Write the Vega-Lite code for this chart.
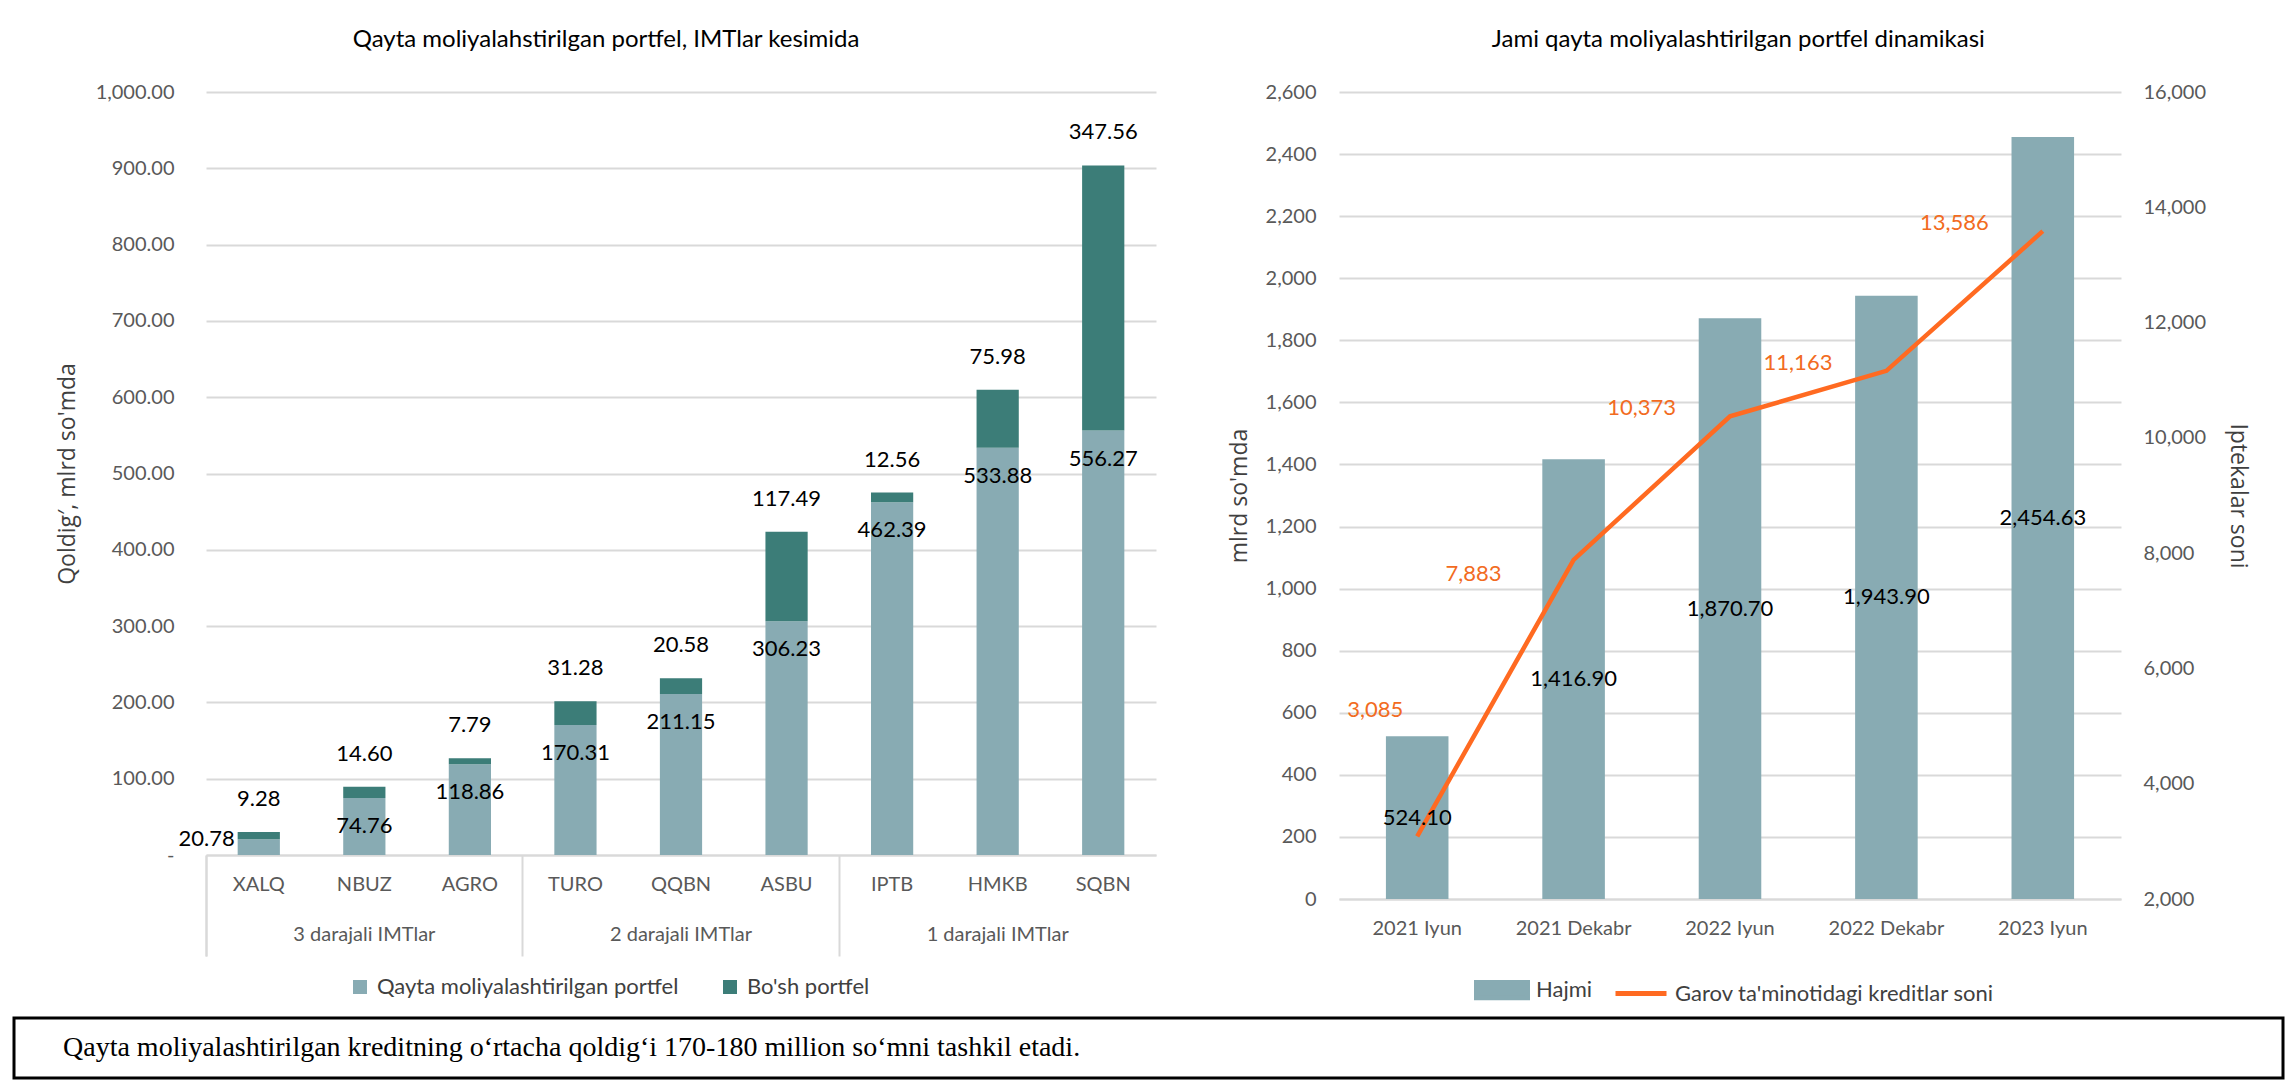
{
  "$schema": "https://vega.github.io/schema/vega-lite/v6.json",
  "background": "white",
  "padding": {"left": 12, "right": 9, "top": 28, "bottom": 0},
  "config": {
    "view": {"stroke": null},
    "font": "Lato",
    "axis": {"labelFont": "Lato", "labelFontSize": 20, "labelColor": "#595959", "titleFont": "Open Sans", "titleFontSize": 23, "titleFontWeight": "normal", "titleColor": "#404040", "ticks": false, "domain": false, "gridColor": "#D9D9D9", "gridWidth": 2},
    "legend": {"labelFont": "Lato", "labelFontSize": 22, "labelColor": "#404040", "labelLimit": 0},
    "title": {"font": "Lato", "fontSize": 24, "fontWeight": "normal", "color": "#000000"}
  },
  "columns": 1,
  "align": "none",
  "spacing": 8,
  "concat": [
    {
      "hconcat": [
        {
          "hconcat": [
            {"width": 1, "height": 763, "data": {"values": []}, "mark": {"type": "rect"}},
            {
              "width": 950,
              "height": 763,
              "title": {"text": "Qayta moliyalahstirilgan portfel, IMTlar kesimida", "anchor": "middle", "frame": "bounds", "offset": 30},
              "data": {"values": [
                {"bank": "XALQ", "group": "3 darajali IMTlar", "series": "Qayta moliyalashtirilgan portfel", "value": 20.78},
                {"bank": "XALQ", "group": "3 darajali IMTlar", "series": "Bo'sh portfel", "value": 9.28},
                {"bank": "NBUZ", "group": "3 darajali IMTlar", "series": "Qayta moliyalashtirilgan portfel", "value": 74.76},
                {"bank": "NBUZ", "group": "3 darajali IMTlar", "series": "Bo'sh portfel", "value": 14.60},
                {"bank": "AGRO", "group": "3 darajali IMTlar", "series": "Qayta moliyalashtirilgan portfel", "value": 118.86},
                {"bank": "AGRO", "group": "3 darajali IMTlar", "series": "Bo'sh portfel", "value": 7.79},
                {"bank": "TURO", "group": "2 darajali IMTlar", "series": "Qayta moliyalashtirilgan portfel", "value": 170.31},
                {"bank": "TURO", "group": "2 darajali IMTlar", "series": "Bo'sh portfel", "value": 31.28},
                {"bank": "QQBN", "group": "2 darajali IMTlar", "series": "Qayta moliyalashtirilgan portfel", "value": 211.15},
                {"bank": "QQBN", "group": "2 darajali IMTlar", "series": "Bo'sh portfel", "value": 20.58},
                {"bank": "ASBU", "group": "2 darajali IMTlar", "series": "Qayta moliyalashtirilgan portfel", "value": 306.23},
                {"bank": "ASBU", "group": "2 darajali IMTlar", "series": "Bo'sh portfel", "value": 117.49},
                {"bank": "IPTB", "group": "1 darajali IMTlar", "series": "Qayta moliyalashtirilgan portfel", "value": 462.39},
                {"bank": "IPTB", "group": "1 darajali IMTlar", "series": "Bo'sh portfel", "value": 12.56},
                {"bank": "HMKB", "group": "1 darajali IMTlar", "series": "Qayta moliyalashtirilgan portfel", "value": 533.88},
                {"bank": "HMKB", "group": "1 darajali IMTlar", "series": "Bo'sh portfel", "value": 75.98},
                {"bank": "SQBN", "group": "1 darajali IMTlar", "series": "Qayta moliyalashtirilgan portfel", "value": 556.27},
                {"bank": "SQBN", "group": "1 darajali IMTlar", "series": "Bo'sh portfel", "value": 347.56}
              ]},
              "layer": [
                {
                  "transform": [{"stack": "value", "groupby": ["bank"], "sort": [{"field": "series", "order": "descending"}], "as": ["v0", "v1"]}],
                  "encoding": {
                    "x": {"field": "bank", "type": "nominal", "sort": ["XALQ", "NBUZ", "AGRO", "TURO", "QQBN", "ASBU", "IPTB", "HMKB", "SQBN"],
                          "scale": {"paddingInner": 0.6, "paddingOuter": 0.3},
                          "axis": {"orient": "bottom", "title": null, "labelAngle": 0, "domain": true, "domainColor": "#D9D9D9", "domainWidth": 2, "labelPadding": 19}}
                  },
                  "layer": [
                    {
                      "mark": {"type": "bar"},
                      "encoding": {
                        "y": {"field": "v0", "type": "quantitative", "scale": {"domain": [0, 1000]},
                              "axis": {"title": "Qoldig′, mlrd so'mda", "titlePadding": 16, "labelPadding": 32, "values": [0, 100, 200, 300, 400, 500, 600, 700, 800, 900, 1000], "labelExpr": "datum.value == 0 ? '-' : format(datum.value, ',.2f')"}},
                        "y2": {"field": "v1"},
                        "color": {"field": "series", "type": "nominal",
                                  "scale": {"domain": ["Qayta moliyalashtirilgan portfel", "Bo'sh portfel"], "range": ["#88ABB3", "#3C7D78"]},
                                  "legend": {"orient": "none", "legendX": 335, "legendY": 884, "direction": "horizontal", "title": null, "symbolType": "square", "symbolSize": 196, "symbolStrokeWidth": 0, "columnPadding": 40, "labelOffset": 6}}
                      }
                    },
                    {
                      "transform": [{"filter": "datum.series == 'Qayta moliyalashtirilgan portfel' && datum.bank != 'XALQ'"}],
                      "mark": {"type": "text", "dy": 28, "fontSize": 22, "font": "Lato", "color": "#000000", "baseline": "middle"},
                      "encoding": {"y": {"field": "v1", "type": "quantitative"}, "text": {"field": "value", "type": "quantitative", "format": ".2f"}}
                    },
                    {
                      "transform": [{"filter": "datum.series == 'Qayta moliyalashtirilgan portfel' && datum.bank == 'XALQ'"}],
                      "mark": {"type": "text", "align": "right", "dx": -24, "dy": 0, "fontSize": 22, "font": "Lato", "color": "#000000", "baseline": "middle"},
                      "encoding": {"y": {"field": "v1", "type": "quantitative"}, "text": {"field": "value", "type": "quantitative", "format": ".2f"}}
                    },
                    {
                      "transform": [{"filter": "datum.series == \"Bo'sh portfel\""}],
                      "mark": {"type": "text", "dy": -33, "fontSize": 22, "font": "Lato", "color": "#000000", "baseline": "middle"},
                      "encoding": {"y": {"field": "v1", "type": "quantitative"}, "text": {"field": "value", "type": "quantitative", "format": ".2f"}}
                    }
                  ]
                },
                {
                  "mark": {"type": "bar", "opacity": 0},
                  "encoding": {
                    "x": {"field": "group", "type": "nominal", "sort": ["3 darajali IMTlar", "2 darajali IMTlar", "1 darajali IMTlar"],
                          "scale": {"paddingInner": 0, "paddingOuter": 0},
                          "axis": {"orient": "bottom", "title": null, "labelAngle": 0, "domain": false, "ticks": true, "tickSize": 101, "tickColor": "#D9D9D9", "tickWidth": 2, "bandPosition": 0, "tickExtra": true, "labelPadding": -32}}
                  }
                }
              ],
              "resolve": {"scale": {"x": "independent"}}
            }
          ],
          "spacing": 41
        },
        {
          "width": 782,
          "height": 807,
          "title": {"text": "Jami qayta moliyalashtirilgan portfel dinamikasi", "anchor": "middle", "frame": "bounds", "offset": 30},
          "data": {"values": [
            {"period": "2021 Iyun", "hajmi": 524.10, "soni": 3085},
            {"period": "2021 Dekabr", "hajmi": 1416.90, "soni": 7883},
            {"period": "2022 Iyun", "hajmi": 1870.70, "soni": 10373},
            {"period": "2022 Dekabr", "hajmi": 1943.90, "soni": 11163},
            {"period": "2023 Iyun", "hajmi": 2454.63, "soni": 13586}
          ]},
          "encoding": {
            "x": {"field": "period", "type": "nominal", "sort": ["2021 Iyun", "2021 Dekabr", "2022 Iyun", "2022 Dekabr", "2023 Iyun"],
                  "scale": {"paddingInner": 0.6, "paddingOuter": 0.3},
                  "axis": {"title": null, "labelAngle": 0, "domain": true, "domainColor": "#D9D9D9", "domainWidth": 2, "labelPadding": 19}}
          },
          "layer": [
            {
              "mark": {"type": "bar"},
              "encoding": {
                "y": {"field": "hajmi", "type": "quantitative", "scale": {"domain": [0, 2600]},
                      "axis": {"orient": "left", "title": "mlrd so'mda", "titlePadding": 14, "labelPadding": 23, "format": ",d", "values": [0, 200, 400, 600, 800, 1000, 1200, 1400, 1600, 1800, 2000, 2200, 2400, 2600]}},
                "color": {"datum": "Hajmi", "type": "nominal",
                          "scale": {"domain": ["Hajmi", "Garov ta'minotidagi kreditlar soni"], "range": ["#88ABB3", "#FF6A21"]},
                          "legend": {"orient": "none", "legendX": 135, "legendY": 870, "direction": "horizontal", "title": null, "symbolSize": 2601, "columnPadding": 12, "labelOffset": 6,
                                     "encode": {"symbols": {"update": {
                                       "shape": {"signal": "datum.value === 'Hajmi' ? 'M-1,-0.3H1V0.3H-1Z' : 'stroke'"},
                                       "fill": {"signal": "datum.value === 'Hajmi' ? '#88ABB3' : 'transparent'"},
                                       "stroke": {"signal": "datum.value === 'Hajmi' ? 'transparent' : '#FF6A21'"},
                                       "strokeWidth": {"value": 5},
                                       "opacity": {"value": 1}}}}}}
              }
            },
            {
              "encoding": {
                "y": {"field": "soni", "type": "quantitative", "scale": {"domain": [2000, 16000]},
                      "axis": {"orient": "right", "title": "Iptekalar soni", "titlePadding": 20, "labelPadding": 22, "format": ",d", "grid": false, "values": [2000, 4000, 6000, 8000, 10000, 12000, 14000, 16000]}}
              },
              "layer": [
                {
                  "mark": {"type": "line", "strokeWidth": 4.5},
                  "encoding": {"color": {"datum": "Garov ta'minotidagi kreditlar soni", "type": "nominal"}}
                },
                {
                  "transform": [{"filter": "datum.period != '2021 Iyun' && datum.period != '2021 Dekabr'"}],
                  "mark": {"type": "text", "align": "right", "baseline": "middle", "dx": -54, "dy": -8, "fontSize": 22, "font": "Lato", "color": "#F26B21"},
                  "encoding": {"text": {"field": "soni", "type": "quantitative", "format": ","}}
                },
                {
                  "transform": [{"filter": "datum.period == '2021 Dekabr'"}],
                  "mark": {"type": "text", "align": "right", "baseline": "middle", "dx": -72, "dy": 14, "fontSize": 22, "font": "Lato", "color": "#F26B21"},
                  "encoding": {"text": {"field": "soni", "type": "quantitative", "format": ","}}
                },
                {
                  "transform": [{"filter": "datum.period == '2021 Iyun'"}],
                  "mark": {"type": "text", "align": "right", "baseline": "middle", "dx": -14, "dy": -126, "fontSize": 22, "font": "Lato", "color": "#F26B21"},
                  "encoding": {"text": {"field": "soni", "type": "quantitative", "format": ","}}
                }
              ]
            },
            {
              "mark": {"type": "text", "baseline": "middle", "fontSize": 22, "font": "Lato", "color": "#000000"},
              "encoding": {
                "y": {"field": "hajmi", "type": "quantitative", "scale": {"domain": [0, 5200]}, "axis": null},
                "text": {"field": "hajmi", "type": "quantitative", "format": ",.2f"}
              }
            }
          ],
          "resolve": {"scale": {"y": "independent"}}
        }
      ],
      "spacing": 72,
      "resolve": {"scale": {"color": "independent"}, "legend": {"color": "independent"}}
    },
    {
      "width": 2269,
      "height": 60,
      "view": {"stroke": "#000000", "strokeWidth": 3},
      "data": {"values": [{"note": "Qayta moliyalashtirilgan kreditning o‘rtacha qoldig‘i 170-180 million so‘mni tashkil etadi."}]},
      "mark": {"type": "text", "align": "left", "baseline": "middle", "dx": 49, "font": "Liberation Serif", "fontSize": 28, "color": "#000000"},
      "encoding": {
        "x": {"field": "note", "type": "nominal", "scale": {"type": "point", "padding": 0, "align": 0}, "axis": null},
        "text": {"field": "note"}
      }
    }
  ]
}
